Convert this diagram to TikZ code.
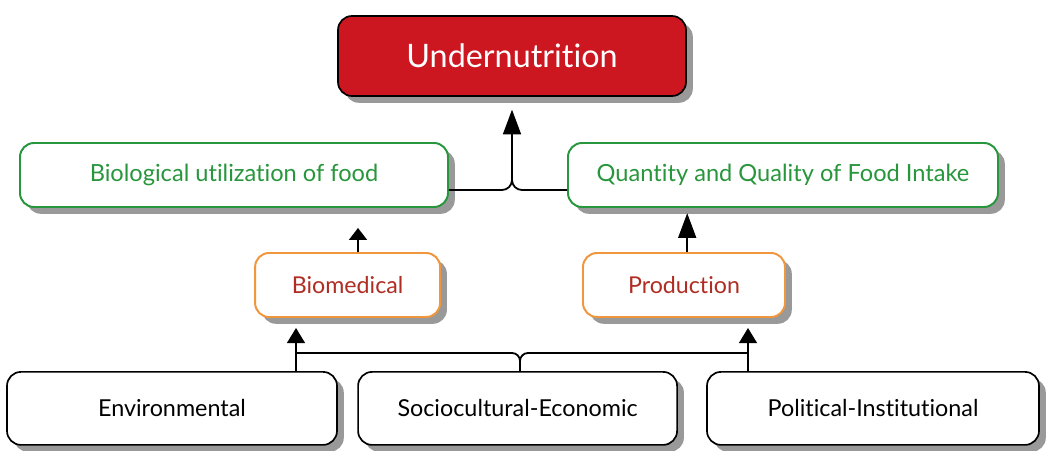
\documentclass[tikz,border=0pt]{standalone}
\usepackage{fontspec}
\setmainfont{Lato}[Ligatures=NoCommon]
\usepackage{xcolor}
\usetikzlibrary{arrows.meta,shadows}

\definecolor{undred}{RGB}{204,22,32}
\definecolor{boxgreen}{RGB}{40,150,60}
\definecolor{boxorange}{RGB}{240,150,60}
\definecolor{txtbrown}{RGB}{175,45,35}

\tikzset{
  box/.style={rounded corners=0.35cm, fill=white, align=center, inner sep=0pt,
    drop shadow={shadow xshift=0.17cm, shadow yshift=-0.17cm, fill=black!40, opacity=1}},
  topbox/.style={box, draw=black, fill=undred, line width=1.2pt, text=white,
    font=\fontsize{23}{27}\selectfont},
  midbox/.style={box, draw=boxgreen, line width=1.4pt, text=boxgreen,
    font=\fontsize{16.8}{20}\selectfont},
  lowbox/.style={box, draw=boxorange, line width=1.4pt, text=txtbrown,
    font=\fontsize{16.5}{20}\selectfont},
  basebox/.style={box, draw=black, line width=1.2pt, text=black,
    font=\fontsize{16.6}{20}\selectfont},
  link/.style={line width=1.3pt, black},
  arr/.style={link, -{Triangle[length=#1, width=0.45cm]}},
}

\begin{document}
\begin{tikzpicture}
    \useasboundingbox (0,0) rectangle (26.2,11.25);
    % boxes
    \node[topbox, minimum width=8.7cm, minimum height=2.0cm] (under) at (12.8,9.85) {Undernutrition};
    \node[midbox, minimum width=10.7cm, minimum height=1.6cm] (bio) at (5.85,6.875) {Biological utilization of food};
    \node[midbox, minimum width=10.75cm, minimum height=1.6cm] (qual) at (19.575,6.875) {Quantity and Quality of Food Intake};
    \node[lowbox, minimum width=4.625cm, minimum height=1.6cm] (biomed) at (8.69,4.125) {Biomedical};
    \node[lowbox, minimum width=5.05cm, minimum height=1.6cm] (prod) at (17.1,4.125) {Production};
    \node[basebox, minimum width=8.25cm, minimum height=1.825cm] (env) at (4.3,1.04) {Environmental};
    \node[basebox, minimum width=7.975cm, minimum height=1.825cm] (socio) at (12.94,1.04) {Sociocultural-Economic};
    \node[basebox, minimum width=8.3cm, minimum height=1.825cm] (pol) at (21.825,1.04) {Political-Institutional};
    % joins
    \coordinate (tj) at (12.8,6.5);
    \coordinate (lj) at (7.4,2.425);
    \coordinate (rj) at (18.7,2.425);
    \coordinate (mj) at (13,2.425);
    % top brace
    \draw[link, rounded corners=0.25cm] (bio.east |- tj) -| (12.8,7.2);
    \draw[link, rounded corners=0.25cm] (qual.west |- tj) -| (12.8,7.2);
    \draw[arr=0.62cm, shorten >=0.32cm] (12.8,7.0) -- (under.south);
    % middle arrows
    \draw[arr=0.3cm, shorten >=0.5cm] ([xshift=0.26cm]biomed.north) -- ([xshift=0.26cm]biomed.north |- bio.south);
    \draw[arr=0.62cm, shorten >=0.13cm] ([xshift=0.08cm]prod.north) -- ([xshift=0.08cm]prod.north |- qual.south);
    % bottom brace
    \draw[arr=0.38cm, shorten >=0.25cm] (env.north -| lj) -- (biomed.south -| lj);
    \draw[arr=0.38cm, shorten >=0.25cm] (pol.north -| rj) -- (prod.south -| rj);
    \draw[link, rounded corners=0.2cm] (lj) -| (mj |- socio.north);
    \draw[link, rounded corners=0.2cm] (rj) -| (mj |- socio.north);
\end{tikzpicture}
\end{document}
